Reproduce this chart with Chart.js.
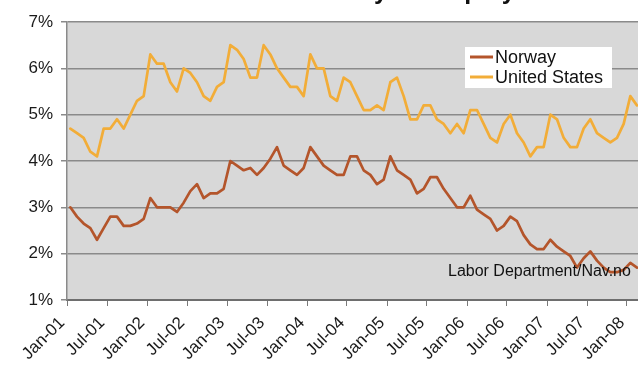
<!DOCTYPE html>
<html>
<head>
<meta charset="utf-8">
<script src="https://cdn.jsdelivr.net/npm/chart.js@4/dist/chart.umd.min.js"></script>
<style>
  html, body { margin: 0; padding: 0; background: #ffffff; }
  #wrap { width: 638px; height: 372px; }
</style>
</head>
<body>
<div id="wrap"><canvas id="c" width="638" height="372"></canvas></div>
<script>
// Monthly unemployment rate (%), January 2001 through February 2008
const tickLabels = ['Jan-01','Jul-01','Jan-02','Jul-02','Jan-03','Jul-03','Jan-04','Jul-04',
                    'Jan-05','Jul-05','Jan-06','Jul-06','Jan-07','Jul-07','Jan-08'];

const norway = [
  3.0, 2.8, 2.65, 2.55, 2.3, 2.55, 2.8, 2.8, 2.6, 2.6, 2.65, 2.75,     // 2001
  3.2, 3.0, 3.0, 3.0, 2.9, 3.1, 3.35, 3.5, 3.2, 3.3, 3.3, 3.4,         // 2002
  4.0, 3.9, 3.8, 3.85, 3.7, 3.85, 4.05, 4.3, 3.9, 3.8, 3.7, 3.85,      // 2003
  4.3, 4.1, 3.9, 3.8, 3.7, 3.7, 4.1, 4.1, 3.8, 3.7, 3.5, 3.6,          // 2004
  4.1, 3.8, 3.7, 3.6, 3.3, 3.4, 3.65, 3.65, 3.4, 3.2, 3.0, 3.0,        // 2005
  3.25, 2.95, 2.85, 2.75, 2.5, 2.6, 2.8, 2.7, 2.4, 2.2, 2.1, 2.1,      // 2006
  2.3, 2.15, 2.05, 1.95, 1.7, 1.9, 2.05, 1.85, 1.7, 1.6, 1.6, 1.65,    // 2007
  1.8, 1.7                                                             // 2008
];

const unitedStates = [
  4.7, 4.6, 4.5, 4.2, 4.1, 4.7, 4.7, 4.9, 4.7, 5.0, 5.3, 5.4,          // 2001
  6.3, 6.1, 6.1, 5.7, 5.5, 6.0, 5.9, 5.7, 5.4, 5.3, 5.6, 5.7,          // 2002
  6.5, 6.4, 6.2, 5.8, 5.8, 6.5, 6.3, 6.0, 5.8, 5.6, 5.6, 5.4,          // 2003
  6.3, 6.0, 6.0, 5.4, 5.3, 5.8, 5.7, 5.4, 5.1, 5.1, 5.2, 5.1,          // 2004
  5.7, 5.8, 5.4, 4.9, 4.9, 5.2, 5.2, 4.9, 4.8, 4.6, 4.8, 4.6,          // 2005
  5.1, 5.1, 4.8, 4.5, 4.4, 4.8, 5.0, 4.6, 4.4, 4.1, 4.3, 4.3,          // 2006
  5.0, 4.9, 4.5, 4.3, 4.3, 4.7, 4.9, 4.6, 4.5, 4.4, 4.5, 4.8,          // 2007
  5.4, 5.2                                                             // 2008
];

const seriesNames = ['Norway', 'United States'];
const seriesColors = ['#b4552b', '#f2ad38'];
const titleText = "Two Countries' Monthly Unemployment Rate";
const sourceText = 'Labor Department/Nav.no';

const FONT = '"Liberation Sans", Arial, Helvetica, sans-serif';

// each monthly value is placed in the middle of its month on a month-index axis
const toPoints = arr => arr.map((v, i) => ({ x: i + 0.5, y: v }));

const plotBackground = {
  id: 'plotBackground',
  beforeDraw(chart) {
    const { ctx, chartArea: a } = chart;
    ctx.save();
    ctx.fillStyle = '#d8d8d8';
    ctx.fillRect(a.left, a.top, a.right - a.left, a.bottom - a.top);
    ctx.restore();
  }
};

const overlay = {
  id: 'overlay',
  afterDraw(chart) {
    const ctx = chart.ctx;
    ctx.save();

    // source note
    ctx.font = '16px ' + FONT;
    ctx.fillStyle = '#111';
    ctx.textAlign = 'left';
    ctx.textBaseline = 'middle';
    ctx.fillText(sourceText, 448, 272);

    // legend box
    ctx.fillStyle = '#ffffff';
    ctx.fillRect(465, 47, 147, 41);
    ctx.font = '18px ' + FONT;
    chart.data.datasets.forEach((ds, k) => {
      const y = 57 + k * 20;
      ctx.strokeStyle = ds.borderColor;
      ctx.lineWidth = 3;
      ctx.beginPath();
      ctx.moveTo(470, y);
      ctx.lineTo(493, y);
      ctx.stroke();
      ctx.fillStyle = '#111';
      ctx.fillText(ds.label, 495, y + 1);
    });

    // heading, running off the top edge
    ctx.font = 'bold 25px ' + FONT;
    ctx.fillStyle = '#111';
    ctx.textAlign = 'center';
    ctx.textBaseline = 'alphabetic';
    ctx.fillText(titleText, 372, -1.5);

    ctx.restore();
  }
};

new Chart(document.getElementById('c'), {
  type: 'line',
  data: {
    datasets: [
      { label: seriesNames[0], data: toPoints(norway), borderColor: seriesColors[0] },
      { label: seriesNames[1], data: toPoints(unitedStates), borderColor: seriesColors[1] }
    ]
  },
  options: {
    responsive: false,
    devicePixelRatio: 1,
    animation: false,
    parsing: false,
    layout: { padding: { top: 22, right: 0, bottom: 0, left: 0 } },
    elements: {
      point: { radius: 0 },
      line: { borderWidth: 2.7, tension: 0, borderJoinStyle: 'round', borderCapStyle: 'round' }
    },
    plugins: {
      legend: { display: false },
      title: { display: false },
      tooltip: { enabled: false }
    },
    scales: {
      x: {
        type: 'linear',
        min: 0,
        max: 85.65,
        afterBuildTicks(scale) {
          scale.ticks = tickLabels.map((_, k) => ({ value: k * 6 }));
        },
        afterFit(scale) {
          scale.height = 72;
          scale.paddingLeft = 0;
          scale.paddingRight = 0;
        },
        ticks: {
          autoSkip: false,
          minRotation: 45,
          maxRotation: 45,
          padding: 7,
          labelOffset: -5,
          color: '#1a1a1a',
          font: { family: FONT, size: 17 },
          callback: v => tickLabels[Math.round(v / 6)]
        },
        grid: { drawOnChartArea: false, drawTicks: true, tickLength: 6, color: '#7a7a7a', lineWidth: 1 },
        border: { display: true, color: '#6e6e6e', width: 2 }
      },
      y: {
        min: 1,
        max: 7,
        afterFit(scale) { scale.width = 67; },
        ticks: {
          stepSize: 1,
          padding: 8,
          color: '#1a1a1a',
          font: { family: FONT, size: 17 },
          callback: v => v + '%'
        },
        grid: { color: '#8a8a8a', lineWidth: 1.5, tickLength: 6, drawTicks: true },
        border: { display: true, color: '#8a8a8a', width: 1.5 }
      }
    }
  },
  plugins: [plotBackground, overlay]
});
</script>
</body>
</html>
